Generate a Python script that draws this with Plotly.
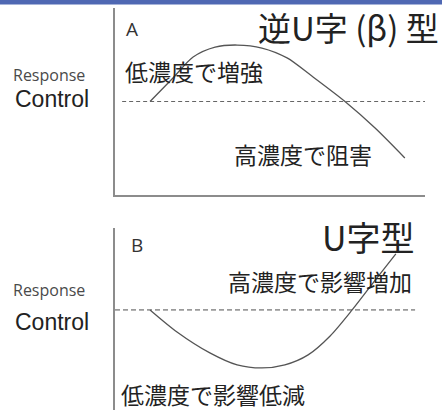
import plotly.graph_objects as go

# Panel A: inverted-U (beta) curve
conc_a = [11.3, 18.7, 25.2, 32.3, 39.4, 47.4, 55.5, 63.5, 74.2, 83.9, 93.5]
resp_a = [0, 12.6, 23.8, 29.1, 30.2, 28.6, 23.3, 13.6, 0, -14.2, -30.2]

# Panel B: U-shaped curve
conc_b = [11.3, 20.0, 30.6, 39.4, 47.4, 54.8, 62.3, 69.4, 76.5, 83.5, 90.6]
resp_b = [0, -12.1, -23.6, -30.2, -31.9, -30.2, -24.7, -14.3, 0, 15.4, 30.8]

# Control level (dashed line) for each panel
control_a_x = [2.3, 100]
control_b_x = [0, 96.8]
control_y = [0, 0]

cjk = "Noto Sans CJK JP"
line_col = "#555555"
axis_col = "#8c8c8c"

fig = go.Figure()

fig.add_trace(go.Scatter(x=control_a_x, y=control_y, mode="lines",
                         line=dict(color="#666666", width=1.2, dash="4px,3px"),
                         xaxis="x", yaxis="y", hoverinfo="skip"))
fig.add_trace(go.Scatter(x=conc_a, y=resp_a, mode="lines",
                         line=dict(color=line_col, width=1.3, shape="spline", smoothing=0.8),
                         xaxis="x", yaxis="y"))
fig.add_trace(go.Scatter(x=control_b_x, y=control_y, mode="lines",
                         line=dict(color="#9a9a9a", width=1.6, dash="5px,3px"),
                         xaxis="x2", yaxis="y2", hoverinfo="skip"))
fig.add_trace(go.Scatter(x=conc_b, y=resp_b, mode="lines",
                         line=dict(color=line_col, width=1.3, shape="spline", smoothing=0.8),
                         xaxis="x2", yaxis="y2"))

axis_common = dict(showgrid=False, zeroline=False, showticklabels=False, ticks="")

fig.update_layout(
    width=442, height=410,
    margin=dict(l=0, r=0, t=0, b=0),
    paper_bgcolor="white", plot_bgcolor="white",
    showlegend=False,
    xaxis=dict(domain=[0.2602, 0.9615], range=[0, 100], anchor="y",
               showline=True, linecolor=axis_col, linewidth=1.5, **axis_common),
    yaxis=dict(domain=[0.5244, 0.9805], range=[-50, 50], anchor="x",
               showline=True, linecolor=axis_col, linewidth=1.5, **axis_common),
    xaxis2=dict(domain=[0.2602, 0.9615], range=[0, 100], anchor="y2",
                showline=False, **axis_common),
    yaxis2=dict(domain=[0, 0.4439], range=[-55, 45], anchor="x2",
                showline=True, linecolor=axis_col, linewidth=1.5, **axis_common),
)

# top header bar of the slide
fig.add_shape(type="rect", xref="paper", yref="paper", x0=0, x1=1, y0=0.989, y1=1.0,
              fillcolor="#4f68b3", line_width=0, layer="above")

def label(text, x, y, size, xanchor="left", ref="", font=cjk, color="#222222"):
    fig.add_annotation(text=text, x=x, y=y, xref="x" + ref if ref != "p" else "paper",
                       yref="y" + ref if ref != "p" else "paper",
                       showarrow=False, xanchor=xanchor, yanchor="middle",
                       font=dict(family=font, size=size, color=color))

# panel A texts
label("A", 3.0, 39.0, 19, font="Open Sans", color="#333333")
label("逆U字 (β) 型", 0.998, 1 - 27 / 410, 33, xanchor="right", ref="p")
label("低濃度で増強", 2.6, 16.5, 23)
label("高濃度で阻害", 37.8, -28.0, 23)

# panel B texts
label("B", 4.5, 35.7, 19, font="Open Sans", color="#333333", ref="2")
label("U字型", 97.5, 40.5, 34, xanchor="right", ref="2")
label("高濃度で影響増加", 96.5, 15.9, 23, xanchor="right", ref="2")
label("低濃度で影響低減", 1.4, -46.2, 23, ref="2")

# y-axis side labels
label("Response", 0.024, 1 - 75 / 410, 16, ref="p", font="Open Sans", color="#4a4a4a")
label("Control", 0.030, 1 - 99 / 410, 23, ref="p", font="Liberation Sans")
label("Response", 0.024, 1 - 290 / 410, 16, ref="p", font="Open Sans", color="#4a4a4a")
label("Control", 0.030, 1 - 322 / 410, 23, ref="p", font="Liberation Sans")

# drop the page's default body margin so the figure sits at the window corner
fig.write_html("out.html", config={"displayModeBar": False},
               post_script="document.body.style.margin='0';")
